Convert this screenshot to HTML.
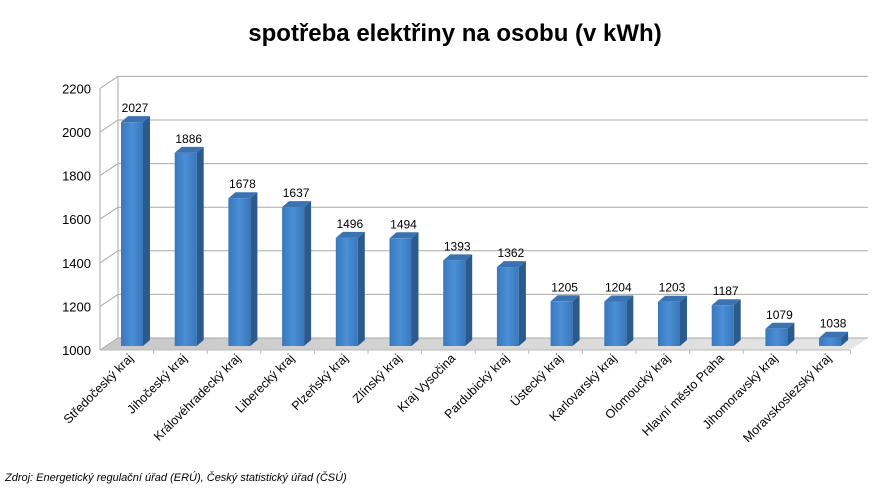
<!DOCTYPE html>
<html><head><meta charset="utf-8"><style>body{margin:0;background:#fff}svg{display:block}text{font-family:"Liberation Sans",sans-serif}</style></head><body>
<svg width="881" height="494" xmlns="http://www.w3.org/2000/svg">
<defs>
<linearGradient id="f" x1="0" x2="1"><stop offset="0" stop-color="#3a78bd"/><stop offset="0.5" stop-color="#4a8fd6"/><stop offset="1" stop-color="#3a76ba"/></linearGradient>
<linearGradient id="fl" x1="0" x2="1"><stop offset="0" stop-color="#c8c8c8"/><stop offset="1" stop-color="#e6e6e6"/></linearGradient>
</defs>
<text x="455" y="41" text-anchor="middle" font-size="24" font-weight="bold">spotřeba elektřiny na osobu (v kWh)</text>
<g id="grid"></g>
<g id="bars"></g>
<text x="5" y="481" font-size="11" font-style="italic">Zdroj: Energetický regulační úřad (ERÚ), Český statistický úřad (ČSÚ)</text>
<script>
var ns="http://www.w3.org/2000/svg",g=document.getElementById('grid'),b=document.getElementById('bars');
function el(p,t,a,txt){var e=document.createElementNS(ns,t);for(var k in a)e.setAttribute(k,a[k]);if(txt)e.textContent=txt;p.appendChild(e);return e;}
var k=0.218;
el(g,'polygon',{points:'100,350 118,338 868,338 850,350',fill:'url(#fl)'});
for(var i=0;i<=6;i++){var v=1000+200*i,yf=350-(v-1000)*k,yb=yf-12;
el(g,'line',{x1:100,y1:yf,x2:118,y2:yb,stroke:'#aaa'});
el(g,'line',{x1:118,y1:yb,x2:868,y2:yb,stroke:'#aaa'});
el(g,'text',{x:91,y:yf+5,'font-size':13,'text-anchor':'end'},String(v));}
el(g,'line',{x1:100,y1:350-1200*k,x2:100,y2:350,stroke:'#aaa'});
el(g,'line',{x1:118,y1:338-1200*k,x2:118,y2:338,stroke:'#aaa'});
el(g,'line',{x1:100,y1:350,x2:850,y2:350,stroke:'#bbb'});
var d=[["Středočeský kraj",2027],["Jihočeský kraj",1886],["Královéhradecký kraj",1678],["Liberecký kraj",1637],["Plzeňský kraj",1496],["Zlínský kraj",1494],["Kraj Vysočina",1393],["Pardubický kraj",1362],["Ústecký kraj",1205],["Karlovarský kraj",1204],["Olomoucký kraj",1203],["Hlavní město Praha",1187],["Jihomoravský kraj",1079],["Moravskoslezský kraj",1038]];
d.forEach(function(r,i){var x=121+i*53.7,w=22,top=346-(r[1]-1000)*k,bot=346;
el(g,'line',{x1:100+53.6*(i+1),y1:350,x2:100+53.6*(i+1),y2:354,stroke:'#bbb'});
el(b,'polygon',{points:(x+w)+','+top+' '+(x+w+7)+','+(top-6)+' '+(x+w+7)+','+(bot-6)+' '+(x+w)+','+bot,fill:'#2b5a8c'});
el(b,'polygon',{points:x+','+top+' '+(x+7)+','+(top-6)+' '+(x+w+7)+','+(top-6)+' '+(x+w)+','+top,fill:'#3a72b2'});
el(b,'rect',{x:x,y:top,width:w,height:bot-top,fill:'url(#f)'});
el(b,'text',{x:x+14,y:top-10,'font-size':12,'text-anchor':'middle'},String(r[1]));
var tx=x+13,ty=359;
el(b,'text',{x:tx,y:ty,'font-size':12.5,'text-anchor':'end',transform:'rotate(-45 '+tx+' '+ty+')'},r[0]);});
</script>
</svg>
</body></html>
